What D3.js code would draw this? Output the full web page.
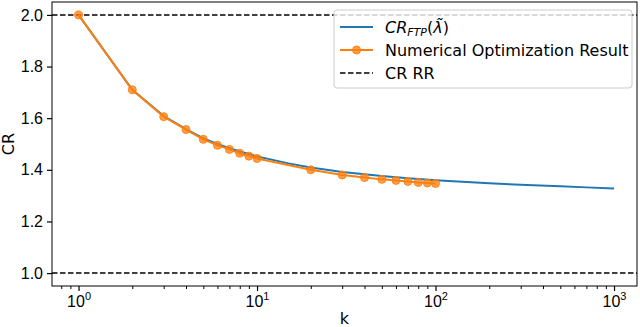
<!DOCTYPE html>
<html>
<head>
<meta charset="utf-8">
<script src="https://cdn.jsdelivr.net/npm/d3@7"></script>
<style>
  body { margin: 0; background: #fff; }
  svg { font-family: "DejaVu Sans", sans-serif; }
</style>
</head>
<body>
<svg id="chart" width="640" height="327"></svg>
<script>
// numerical optimization result (orange, with markers)
const optK = [1, 2, 3, 4, 5, 6, 7, 8, 9, 10, 20, 30, 40, 50, 60, 70, 80, 90, 100];
const optCR = [2.0, 1.710, 1.606, 1.556, 1.518, 1.495, 1.479, 1.464, 1.453, 1.444, 1.400, 1.380, 1.370, 1.363, 1.359, 1.355, 1.351, 1.349, 1.347];

// CR_FTP curve (blue)
const ftpK = [1, 2, 3, 4, 5, 6, 7, 8, 9, 10, 15, 20, 30, 50, 70, 100, 200, 300, 500, 700, 1000];
const ftpCR = [2.0, 1.710, 1.608, 1.558, 1.522, 1.500, 1.484, 1.471, 1.461, 1.452, 1.425, 1.409, 1.392, 1.376, 1.367, 1.360, 1.348, 1.342, 1.336, 1.332, 1.328];

// round robin bounds (dashed)
const rrCR = [2.0, 1.0];

const yTicks = [1.0, 1.2, 1.4, 1.6, 1.8, 2.0];
const xTicks = [1, 10, 100, 1000];
const xDomain = [0.71, 1345];
const yDomain = [0.95, 2.05];

const margin = {left: 52, right: 3, top: 2, bottom: 41};
const width = 640, height = 327;

const svg = d3.select("#chart");

const x = d3.scaleLog().domain(xDomain).range([margin.left, width - margin.right]);
const y = d3.scaleLinear().domain(yDomain).range([height - margin.bottom, margin.top]);

// y axis
const yAxis = svg.append("g")
  .attr("transform", `translate(${margin.left},0)`)
  .call(d3.axisLeft(y).tickValues(yTicks).tickFormat(d3.format(".1f")).tickSize(5).tickPadding(4));
yAxis.select(".domain").remove();
yAxis.selectAll("text").attr("font-size", 16).attr("fill", "#000");
yAxis.selectAll("line").attr("stroke-width", 1.2);

// x axis with minor ticks
const minor = [];
for (let dec = 0.1; dec <= 1000; dec *= 10) {
  for (let m = 2; m <= 9; m++) {
    const v = +(dec * m).toPrecision(3);
    if (v > xDomain[0] && v < xDomain[1]) minor.push(v);
  }
}
const xAxisMinor = svg.append("g")
  .attr("transform", `translate(0,${height - margin.bottom})`)
  .call(d3.axisBottom(x).tickValues(minor).tickFormat("").tickSize(3));
xAxisMinor.select(".domain").remove();

const xAxis = svg.append("g")
  .attr("transform", `translate(0,${height - margin.bottom})`)
  .call(d3.axisBottom(x).tickValues(xTicks).tickFormat("").tickSize(5));
xAxis.select(".domain").remove();
xAxis.selectAll("line").attr("stroke-width", 1.2);
xAxis.selectAll(".tick").each(function(d) {
  const t = d3.select(this).append("text")
    .attr("y", 21)
    .attr("text-anchor", "middle")
    .attr("font-size", 16)
    .attr("fill", "#000");
  t.append("tspan").text("10");
  t.append("tspan").attr("dy", -7).attr("font-size", 11).text(Math.round(Math.log10(d)));
});

// axis labels
svg.append("text")
  .attr("x", (margin.left + width - margin.right) / 2)
  .attr("y", 324)
  .attr("text-anchor", "middle")
  .attr("font-size", 16)
  .text("k");
svg.append("text")
  .attr("transform", `translate(14,${(margin.top + height - margin.bottom) / 2}) rotate(-90)`)
  .attr("text-anchor", "middle")
  .attr("font-size", 16)
  .text("CR");

// dashed RR lines
svg.selectAll(".rr")
  .data(rrCR)
  .enter()
  .append("line")
  .attr("class", "rr")
  .attr("x1", margin.left)
  .attr("x2", width - margin.right)
  .attr("y1", d => y(d))
  .attr("y2", d => y(d))
  .attr("stroke", "#000")
  .attr("stroke-width", 1.5)
  .attr("stroke-dasharray", "5.5,2.5");

// blue curve
const ftpLine = d3.line()
  .x(d => x(d[0]))
  .y(d => y(d[1]));
svg.append("path")
  .datum(ftpK.map((k, i) => [k, ftpCR[i]]))
  .attr("d", ftpLine)
  .attr("fill", "none")
  .attr("stroke", "#1f77b4")
  .attr("stroke-width", 2);

// orange result
const optData = optK.map((k, i) => [k, optCR[i]]);
svg.append("path")
  .datum(optData)
  .attr("d", d3.line().x(d => x(d[0])).y(d => y(d[1])))
  .attr("fill", "none")
  .attr("stroke", "#ff7f0e")
  .attr("stroke-width", 2);
svg.selectAll(".optPt")
  .data(optData)
  .enter()
  .append("circle")
  .attr("class", "optPt")
  .attr("cx", d => x(d[0]))
  .attr("cy", d => y(d[1]))
  .attr("r", 4)
  .attr("fill", "#ff7f0e")
  .attr("fill-opacity", 0.75)
  .attr("stroke", "#ff7f0e")
  .attr("stroke-opacity", 0.9)
  .attr("stroke-width", 1);

// frame
svg.append("rect")
  .attr("x", margin.left)
  .attr("y", margin.top)
  .attr("width", width - margin.left - margin.right)
  .attr("height", height - margin.top - margin.bottom)
  .attr("fill", "none")
  .attr("stroke", "#000")
  .attr("stroke-width", 1);

// legend
const leg = svg.append("g").attr("transform", "translate(334,10)");
leg.append("rect")
  .attr("width", 298)
  .attr("height", 78)
  .attr("rx", 3)
  .attr("fill", "#fff")
  .attr("fill-opacity", 0.8)
  .attr("stroke", "#ccc")
  .attr("stroke-width", 1);

const legItems = [
  {y: 17, color: "#1f77b4", dash: null, marker: false},
  {y: 40, color: "#ff7f0e", dash: null, marker: true},
  {y: 63, color: "#000", dash: "5.5,2.5", marker: false}
];
legItems.forEach(it => {
  leg.append("line")
    .attr("x1", 6).attr("x2", 39)
    .attr("y1", it.y).attr("y2", it.y)
    .attr("stroke", it.color)
    .attr("stroke-width", it.dash ? 1.5 : 2)
    .attr("stroke-dasharray", it.dash);
  if (it.marker) {
    leg.append("circle")
      .attr("cx", 22.5).attr("cy", it.y).attr("r", 4)
      .attr("fill", "#ff7f0e").attr("fill-opacity", 0.75)
      .attr("stroke", "#ff7f0e");
  }
});

const t1 = leg.append("text").attr("x", 51).attr("y", 23).attr("font-size", 16);
t1.append("tspan").attr("font-style", "italic").text("CR");
t1.append("tspan").attr("font-style", "italic").attr("font-size", 11).attr("dy", 3).text("FTP");
t1.append("tspan").attr("dy", -3).text("(");
t1.append("tspan").attr("font-style", "italic").text("\u03BB\u0303");
t1.append("tspan").text(")");

leg.append("text").attr("x", 51).attr("y", 46).attr("font-size", 16).text("Numerical Optimization Result");
leg.append("text").attr("x", 51).attr("y", 69).attr("font-size", 16).text("CR RR");
</script>
</body>
</html>
